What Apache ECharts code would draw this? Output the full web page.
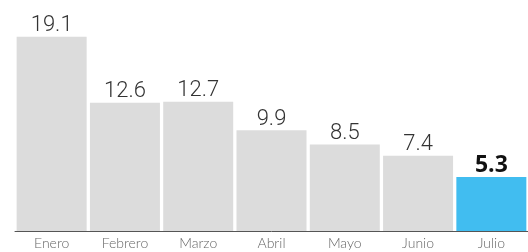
<!DOCTYPE html>
<html>
<head>
<meta charset="utf-8">
<script src="https://cdn.jsdelivr.net/npm/echarts@6/dist/echarts.min.js"></script>
<style>
  html, body { margin: 0; padding: 0; background: #fff; }
  #chart { width: 528px; height: 252px; }
</style>
</head>
<body>
<div id="chart"></div>
<script>
var months = ['Enero', 'Febrero', 'Marzo', 'Abril', 'Mayo', 'Junio', 'Julio'];
var values = [19.1, 12.6, 12.7, 9.9, 8.5, 7.4, 5.3];

var myChart = echarts.init(document.getElementById('chart'));

// last month highlighted in blue, bold label
var barData = values.map(function (v, i) {
    var last = i === values.length - 1;
    return {
        value: v,
        itemStyle: { color: last ? '#41bdf0' : '#dcdcdc' },
        label: last ? { fontWeight: 'bold', color: '#111', fontFamily: 'Open Sans', fontSize: 23 } : {}
    };
});

var option = {
    animation: false,
    grid: { left: 15, top: 0, width: 518, height: 231 },
    xAxis: {
        type: 'category',
        data: months,
        axisLine: { lineStyle: { color: '#555', width: 1 } },
        axisTick: { show: false },
        axisLabel: { color: '#666', fontSize: 14, fontFamily: 'Lato', fontWeight: 300, margin: 5 }
    },
    yAxis: {
        type: 'value',
        min: 0,
        max: 22.7,
        show: false
    },
    series: [
        {
            type: 'bar',
            data: barData,
            barWidth: 70,
            label: {
                show: true,
                position: 'top',
                distance: 0,
                color: '#333',
                fontSize: 22,
                fontWeight: 300,
                fontFamily: 'Roboto'
            }
        }
    ]
};

myChart.setOption(option);
</script>
</body>
</html>
